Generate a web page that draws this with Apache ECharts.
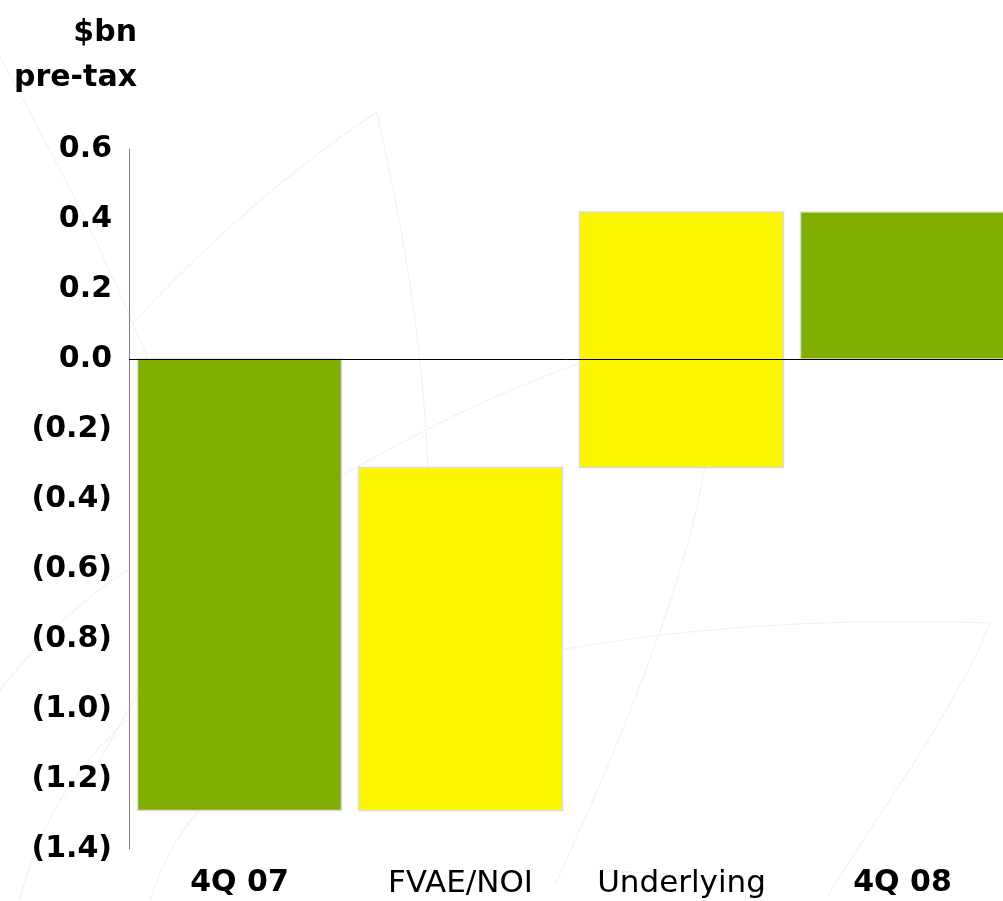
<!DOCTYPE html>
<html>
<head>
<meta charset="utf-8">
<title>Pre-tax bridge 4Q 07 to 4Q 08</title>
<script src="https://cdn.jsdelivr.net/npm/echarts@6/dist/echarts.min.js"></script>
<style>
  html, body { margin: 0; padding: 0; background: #ffffff; }
  #chart { width: 1003px; height: 901px; }
</style>
</head>
<body>
<div id="chart"></div>
<script>
// Bridge categories and the span of each bar ($bn pre-tax)
const categories = ['4Q 07', 'FVAE/NOI', 'Underlying', '4Q 08'];
const barFrom = [0, -1.29, -0.31, 0];
const barTo = [-1.29, -0.31, 0.42, 0.42];
const isTotal = [true, false, false, true];

// Value axis ticks
const yMin = -1.4;
const yMax = 0.6;
const yStep = 0.2;

const GREEN = '#7fad00';
const YELLOW = '#fcf700';
const FONT = 'DejaVu Sans';

function fmtTick(v) {
  const r = Math.round(v * 10) / 10;
  if (r < 0) return '(' + Math.abs(r).toFixed(1) + ')';
  return r.toFixed(1);
}

// Faint decorative leaf outlines behind the plot: [x1, y1, cp1x, cp1y, cp2x, cp2y, x2, y2]
const leafCurves = [
  [0, 57, 50, 150, 100, 240, 150, 365],
  [133, 323, 210, 240, 290, 170, 377, 112],
  [377, 112, 395, 200, 420, 300, 428, 470],
  [580, 363, 480, 400, 420, 430, 300, 500],
  [300, 500, 220, 560, 160, 650, 100, 760],
  [705, 465, 690, 560, 640, 700, 555, 885],
  [560, 650, 700, 625, 850, 618, 990, 623],
  [990, 623, 950, 720, 880, 810, 827, 897],
  [600, 872, 660, 870, 720, 880, 770, 890],
  [0, 690, 40, 640, 80, 600, 128, 570],
  [20, 900, 40, 820, 80, 760, 128, 720],
  [150, 900, 170, 840, 200, 800, 230, 790]
];

const chart = echarts.init(document.getElementById('chart'), null, { renderer: 'canvas' });

const option = {
  backgroundColor: '#ffffff',
  animation: false,
  // the last band runs past the right edge of the canvas
  grid: { left: 129, top: 149, width: 884, height: 700, containLabel: false, outerBoundsMode: 'none' },
  graphic: [
    ...leafCurves.map(function (c) {
      return {
        type: 'bezierCurve', z: -10, silent: true,
        shape: { x1: c[0], y1: c[1], cpx1: c[2], cpy1: c[3], cpx2: c[4], cpy2: c[5], x2: c[6], y2: c[7] },
        style: { fill: null, stroke: '#ececec', lineWidth: 1.2, lineDash: [2, 1] }
      };
    }),
    {
      type: 'text', x: 137, y: 33, z: 10,
      style: { text: '$bn', font: 'bold 30px "' + FONT + '"', fill: '#000', textAlign: 'right', textVerticalAlign: 'middle' }
    },
    {
      type: 'text', x: 137, y: 78, z: 10,
      style: { text: 'pre-tax', font: 'bold 30px "' + FONT + '"', fill: '#000', textAlign: 'right', textVerticalAlign: 'middle' }
    }
  ],
  xAxis: {
    type: 'category',
    data: categories,
    axisLine: { show: false },
    axisTick: { show: false },
    splitLine: { show: false },
    axisLabel: {
      margin: 19,
      interval: 0,
      formatter: function (v, i) {
        return isTotal[i] ? '{b|' + v + '}' : '{n|' + v + '}';
      },
      rich: {
        b: { fontFamily: FONT, fontWeight: 'bold', fontSize: 30, color: '#000' },
        n: { fontFamily: FONT, fontWeight: 'normal', fontSize: 31, color: '#000' }
      }
    }
  },
  yAxis: {
    type: 'value',
    min: yMin,
    max: yMax,
    interval: yStep,
    axisLine: { show: true, lineStyle: { color: '#808080', width: 1 } },
    axisTick: { show: false },
    splitLine: { show: false },
    axisLabel: {
      margin: 17,
      formatter: fmtTick,
      fontFamily: FONT,
      fontWeight: 'bold',
      fontSize: 30,
      color: '#000'
    }
  },
  series: [{
    type: 'custom',
    data: categories.map(function (c, i) { return [i, barFrom[i], barTo[i]]; }),
    encode: { x: 0, y: [1, 2] },
    renderItem: function (params, api) {
      const idx = api.value(0);
      const p0 = api.coord([idx, api.value(1)]);
      const p1 = api.coord([idx, api.value(2)]);
      const band = api.size([1, 0])[0];
      const w = band * 0.923;
      const top = Math.min(p0[1], p1[1]);
      const h = Math.abs(p1[1] - p0[1]);
      return {
        type: 'rect',
        shape: { x: p0[0] - w / 2, y: top, width: w, height: h },
        style: {
          fill: isTotal[idx] ? GREEN : YELLOW,
          stroke: '#dcdcdc',
          lineWidth: 1.5
        }
      };
    },
    markLine: {
      silent: true,
      symbol: ['none', 'none'],
      label: { show: false },
      lineStyle: { color: '#000', width: 1, type: 'solid' },
      data: [{ yAxis: 0 }],
      z: 5
    }
  }]
};

chart.setOption(option);
</script>
</body>
</html>
